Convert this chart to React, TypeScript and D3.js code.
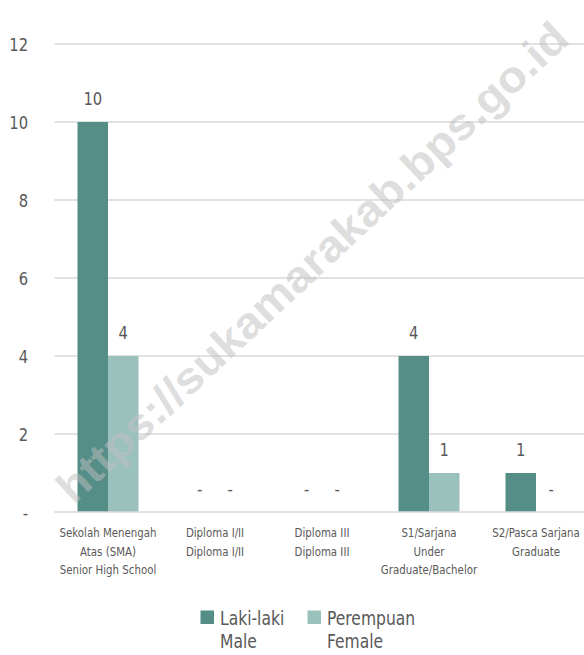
import React from "react";
import * as d3 from "d3";

const categories = [
  ["Sekolah Menengah", "Atas (SMA)", "Senior High School"],
  ["Diploma I/II", "Diploma I/II"],
  ["Diploma III", "Diploma III"],
  ["S1/Sarjana", "Under", "Graduate/Bachelor"],
  ["S2/Pasca Sarjana", "Graduate"],
];
const male = [10, 0, 0, 4, 1];
const female = [4, 0, 0, 1, 0];
const yTicks = [0, 2, 4, 6, 8, 10, 12];
const seriesNames = [
  ["Laki-laki", "Male"],
  ["Perempuan", "Female"],
];
const colors = ["#558e87", "#9bc1bd"];
const watermark = "https://sukamarakab.bps.go.id";

const FONT = "'DejaVu Sans Condensed', 'Liberation Sans Narrow', sans-serif";
const SX = 0.91;

function T(props: { x: number; y: number; size: number; anchor?: string; children: React.ReactNode; fill?: string }) {
  return (
    <g transform={`translate(${props.x},${props.y}) scale(${SX},1)`}>
      <text x={0} y={0} textAnchor={props.anchor || "start"} fontSize={props.size} fill={props.fill || "#595959"}>
        {props.children}
      </text>
    </g>
  );
}

export default function App() {
  const W = 584, H = 655;
  const y = d3.scaleLinear().domain([0, 12]).range([512, 44]);
  const x = d3.scaleBand().domain(categories.map((_, i) => String(i))).range([54.5, 589.5]).padding(0);
  const bw = 30.5;
  const fmt = (v: number) => (v === 0 ? "-" : String(v));
  const series = [male, female];
  return (
    <svg width={W} height={H} style={{ position: "absolute", left: 0, top: 0, fontFamily: FONT }}>
      <rect width={W} height={H} fill="#fff" />
      {yTicks.map((t) => (
        <g key={t}>
          {t !== 0 && <line x1={54.5} x2={W} y1={y(t)} y2={y(t)} stroke="#d9d9d9" strokeWidth={1.5} />}
          <T x={28} y={y(t) + 6.5} size={18} anchor="end">{fmt(t)}</T>
        </g>
      ))}
      {series.map((vals, s) =>
        vals.map((v, i) => {
          const cx = x(String(i))! + x.bandwidth() / 2 + (s === 0 ? -bw / 2 : bw / 2);
          return (
            <g key={`${s}-${i}`}>
              {v > 0 && <rect x={cx - bw / 2} y={y(v)} width={bw} height={y(0) - y(v)} fill={colors[s]} />}
              <T x={cx} y={y(v) - 17} size={18} anchor="middle">{fmt(v)}</T>
            </g>
          );
        })
      )}
      <line x1={54.5} x2={W} y1={y(0)} y2={y(0)} stroke="#d9d9d9" strokeWidth={1.5} />
      {categories.map((lines, i) => (
        <g key={i}>
          {lines.map((l, j) => (
            <T key={j} x={x(String(i))! + x.bandwidth() / 2} y={537 + j * 18.5} size={12.5} anchor="middle">{l}</T>
          ))}
        </g>
      ))}
      {seriesNames.map((names, s) => {
        const lx = s === 0 ? 200.5 : 307.5;
        return (
          <g key={s}>
            <rect x={lx} y={610.5} width={13.5} height={13.5} fill={colors[s]} />
            <T x={lx + 19.5} y={625} size={19}>{names[0]}</T>
            <T x={lx + 19.5} y={648} size={19}>{names[1]}</T>
          </g>
        );
      })}
      <text
        transform="translate(312,262) rotate(-43)"
        textAnchor="middle"
        dy="0.35em"
        fontSize={44}
        fontWeight="bold"
        fontFamily="'Liberation Sans', Arial, sans-serif"
        fill="#bfbfbf"
        opacity={0.5}
        textLength={680}
        lengthAdjust="spacingAndGlyphs"
      >
        {watermark}
      </text>
    </svg>
  );
}
